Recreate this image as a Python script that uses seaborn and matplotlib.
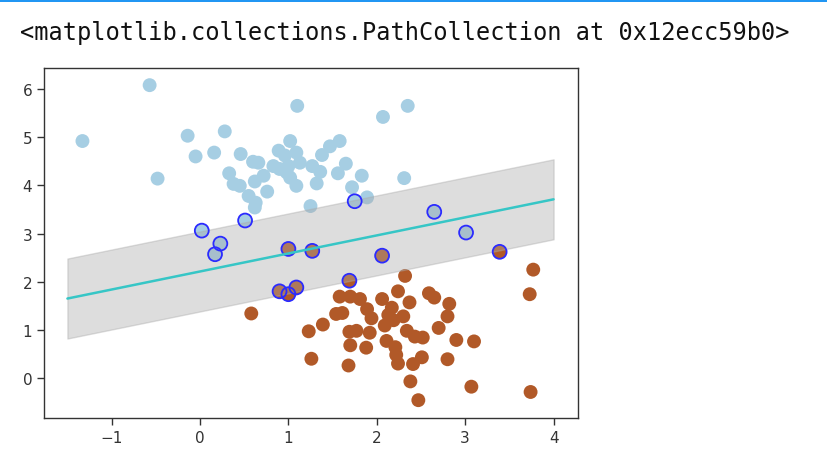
import numpy as np
import pandas as pd
import seaborn as sns
from matplotlib import pyplot as plt
from matplotlib.patches import Rectangle

#数据：浅蓝类别
blue_x = [-1.33, -0.57, -0.48, -0.14, -0.05, 0.16, 0.28, 0.33, 0.38, 0.45, 0.46, 0.55,
          0.63, 0.62, 0.60, 0.66, 0.76, 0.62, 0.72, 0.83, 0.89, 1.02, 0.96, 1.09,
          1.13, 1.00, 0.98, 1.02, 1.09, 0.90, 1.27, 1.36, 1.32, 1.38, 1.47, 1.58,
          1.65, 1.56, 1.83, 1.72, 1.89, 1.25, 1.10, 2.07, 2.35, 2.31,
          0.02, 0.23, 0.17, 0.51, 1.75, 2.65, 3.01]
blue_y = [4.92, 6.08, 4.14, 5.03, 4.60, 4.68, 5.12, 4.25, 4.03, 3.99, 4.65, 3.78,
          3.64, 3.54, 4.49, 4.47, 3.87, 4.08, 4.20, 4.40, 4.72, 4.92, 4.62, 4.68,
          4.47, 4.40, 4.27, 4.16, 3.99, 4.34, 4.40, 4.28, 4.04, 4.63, 4.81, 4.92,
          4.45, 4.25, 4.20, 3.96, 3.75, 3.57, 5.65, 5.42, 5.65, 4.15,
          3.06, 2.79, 2.57, 3.27, 3.67, 3.45, 3.02]

#数据：棕色类别
brown_x = [0.58, 1.23, 1.39, 1.26, 1.58, 1.70, 1.81, 2.06, 1.54, 1.61, 1.89, 1.94,
           1.69, 1.77, 1.92, 1.70, 1.88, 1.68, 2.09, 2.11, 2.32, 3.77, 3.73, 2.24,
           2.37, 2.59, 2.65, 2.82, 2.80, 2.17, 2.13, 2.30, 2.19, 2.34, 2.43, 2.52,
           2.70, 2.90, 3.10, 2.21, 2.22, 2.24, 2.41, 2.51, 2.80, 2.38, 3.07, 2.47,
           3.74,
           1.00, 1.27, 0.90, 1.00, 1.09, 2.06, 1.69, 3.39]
brown_y = [1.34, 0.97, 1.11, 0.40, 1.69, 1.69, 1.64, 1.64, 1.33, 1.35, 1.43, 1.24,
           0.96, 0.98, 0.94, 0.68, 0.63, 0.26, 1.09, 0.77, 2.12, 2.25, 1.74, 1.80,
           1.57, 1.76, 1.67, 1.54, 1.28, 1.46, 1.31, 1.28, 1.20, 0.98, 0.86, 0.84,
           1.04, 0.79, 0.76, 0.64, 0.48, 0.30, 0.29, 0.43, 0.39, -0.07, -0.18, -0.46,
           -0.29,
           2.68, 2.64, 1.80, 1.74, 1.88, 2.54, 2.02, 2.62]

#支持向量
sv_x = [0.02, 0.23, 0.17, 0.51, 1.75, 2.65, 3.01,
        1.00, 1.27, 0.90, 1.00, 1.09, 2.06, 1.69, 3.39]
sv_y = [3.06, 2.79, 2.57, 3.27, 3.67, 3.45, 3.02,
        2.68, 2.64, 1.80, 1.74, 1.88, 2.54, 2.02, 2.62]

#分隔线与间隔
line_x = np.array([-1.5, 4.0])
line_y = np.array([1.65, 3.71])
margin = 0.83

header = '<matplotlib.collections.PathCollection at 0x12ecc59b0>'

df = pd.DataFrame({
    'x': blue_x + brown_x,
    'y': blue_y + brown_y,
    'label': [0] * len(blue_x) + [1] * len(brown_x),
})

sns.set_style('ticks')
plt.rcParams['font.family'] = ['DejaVu Sans']
plt.rcParams['axes.edgecolor'] = '#333333'
plt.rcParams['xtick.color'] = '#333333'
plt.rcParams['ytick.color'] = '#333333'

fig = plt.figure(figsize=(8.28, 4.56), dpi=100)
#顶部的蓝色边线
fig.add_artist(Rectangle((0, 1 - 2.5 / 456), 1, 2.5 / 456, transform=fig.transFigure,
                         color='#2196f3', linewidth=0))
fig.text(20 / 828, 1 - 33 / 456, header, family='DejaVu Sans Mono', fontsize=17,
         va='center', ha='left', color='#111111')

ax = fig.add_axes([44 / 828, 37 / 456, 533.7 / 828, 349.7 / 456])

#散点
sns.scatterplot(data=df, x='x', y='y', hue='label', palette=['#a6cee3', '#b15928'],
                s=100, linewidth=0, legend=False, ax=ax)
#分隔线
ax.plot(line_x, line_y, color='#36c6c6', linewidth=1.8)
#间隔区域
ax.fill_between(line_x, line_y - margin, line_y + margin, edgecolor='none',
                color='#aaaaaa', alpha=0.4)
#支持向量
ax.scatter(sv_x, sv_y, s=100, facecolors='none', edgecolors='#2b2bff', linewidths=1.3)

ax.set_xlim(-1.765, 4.273)
ax.set_ylim(-0.83, 6.43)
ax.set_xticks(range(-1, 5))
ax.set_yticks(range(0, 7))
ax.set_xlabel('')
ax.set_ylabel('')
ax.tick_params(labelsize=11, length=5, width=1)
for s in ax.spines.values():
    s.set_linewidth(1.0)

fig.savefig('out.png', dpi=100)
